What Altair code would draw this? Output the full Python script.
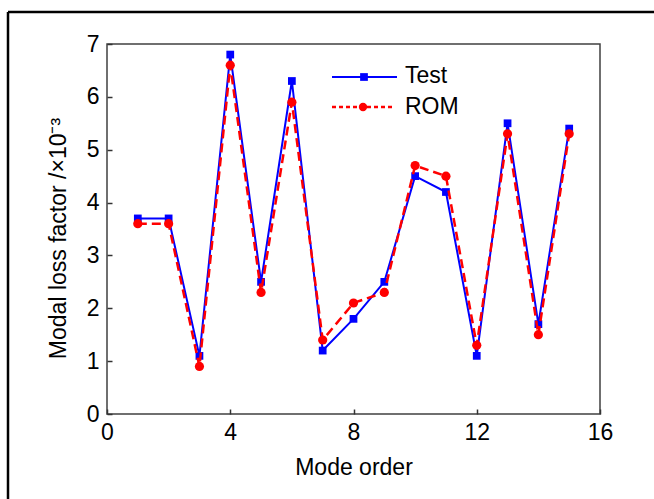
import altair as alt
import pandas as pd

modes = list(range(1, 16))
test_vals = [3.7, 3.7, 1.1, 6.8, 2.5, 6.3, 1.2, 1.8, 2.5, 4.5, 4.2, 1.1, 5.5, 1.7, 5.4]
rom_vals = [3.6, 3.6, 0.9, 6.6, 2.3, 5.9, 1.4, 2.1, 2.3, 4.7, 4.5, 1.3, 5.3, 1.5, 5.3]
x_ticks = [0, 4, 8, 12, 16]
y_ticks = [0, 1, 2, 3, 4, 5, 6, 7]

FONT = "Liberation Sans"
FS = 23
W, H = 493, 370

df_test = pd.DataFrame({"mode": modes, "val": test_vals})
df_rom = pd.DataFrame({"mode": modes, "val": rom_vals})

xs = alt.Scale(domain=[0, 16], nice=False)
ys = alt.Scale(domain=[0, 7], nice=False)

x_enc = alt.X("mode:Q", scale=xs, axis=alt.Axis(
    values=x_ticks, format="d", title="Mode order", offset=-5, tickSize=5, domain=False,
    grid=False, labelPadding=7, titlePadding=12, labelFontSize=FS, titleFontSize=FS,
    labelFont=FONT, titleFont=FONT, labelColor="black", titleColor="black",
    tickColor="#333333", tickWidth=1.5, titleFontWeight="normal", labelFlush=False))
y_enc = alt.Y("val:Q", scale=ys, axis=alt.Axis(
    values=y_ticks, format="d", title="Modal loss factor /×10⁻³", offset=-5, tickSize=5,
    domain=False, grid=False, labelPadding=8, titlePadding=16, titleY=194,
    labelFontSize=FS, titleFontSize=FS, labelFont=FONT, titleFont=FONT,
    labelColor="black", titleColor="black", tickColor="#333333", tickWidth=1.5,
    titleFontWeight="normal", labelFlush=False))

test_line = alt.Chart(df_test).mark_line(color="#0000FF", strokeWidth=2).encode(x=x_enc, y=y_enc)
test_pts = alt.Chart(df_test).mark_point(shape="square", filled=True, color="#0000FF",
                                         size=60, opacity=1).encode(x="mode:Q", y="val:Q")
rom_line = alt.Chart(df_rom).mark_line(color="#FF0000", strokeWidth=2.5,
                                       strokeDash=[9, 5]).encode(x="mode:Q", y="val:Q")
rom_pts = alt.Chart(df_rom).mark_point(shape="circle", filled=True, color="#FF0000",
                                       size=85, opacity=1).encode(x="mode:Q", y="val:Q")

# legend (decoration)
leg_test_line = alt.Chart().mark_rule(color="#0000FF", strokeWidth=2).encode(
    x=alt.value(225), x2=alt.value(290), y=alt.value(33))
leg_test_pt = alt.Chart().mark_point(shape="square", filled=True, color="#0000FF",
                                     size=60, opacity=1).encode(x=alt.value(257), y=alt.value(33))
leg_test_txt = alt.Chart().mark_text(text="Test", align="left", baseline="middle",
                                     fontSize=FS, font=FONT, color="black").encode(
    x=alt.value(298), y=alt.value(32))
leg_rom_line = alt.Chart().mark_rule(color="#FF0000", strokeWidth=2.5, strokeDash=[4, 3]).encode(
    x=alt.value(225), x2=alt.value(287), y=alt.value(63))
leg_rom_pt = alt.Chart().mark_point(shape="circle", filled=True, color="#FF0000",
                                    size=70, opacity=1).encode(x=alt.value(256), y=alt.value(63))
leg_rom_txt = alt.Chart().mark_text(text="ROM", align="left", baseline="middle",
                                    fontSize=FS, font=FONT, color="black").encode(
    x=alt.value(298), y=alt.value(63))

# outer frame (decoration)
frame_top = alt.Chart().mark_rule(color="black", strokeWidth=2.5).encode(
    x=alt.value(-99), x2=alt.value(560), y=alt.value(-32))
frame_left = alt.Chart().mark_rule(color="black", strokeWidth=2.5).encode(
    x=alt.value(-99), y=alt.value(-32), y2=alt.value(470))

chart = alt.layer(
    test_line, test_pts, rom_line, rom_pts,
    leg_test_line, leg_test_pt, leg_test_txt,
    leg_rom_line, leg_rom_pt, leg_rom_txt,
    frame_top, frame_left,
).properties(
    width=W, height=H,
    autosize=alt.AutoSizeParams(type="none"),
    padding={"left": 107, "top": 44, "right": 54, "bottom": 85},
    background="white",
).configure_view(stroke="#404040", strokeWidth=1.5)

chart.save("out.html", embed_options={"renderer": "svg", "actions": False})
